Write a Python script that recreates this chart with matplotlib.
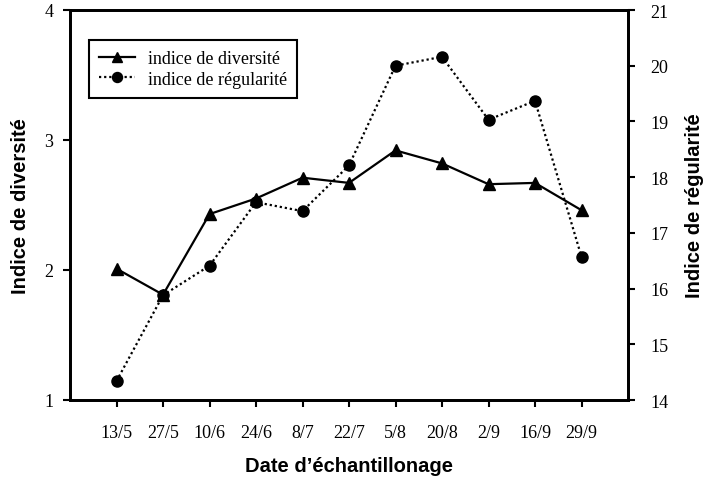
import matplotlib
matplotlib.use("Agg")
import matplotlib.pyplot as plt

dates = ["13/5", "27/5", "10/6", "24/6", "8/7", "22/7", "5/8", "20/8", "2/9", "16/9", "29/9"]
diversite = [2.01, 1.81, 2.43, 2.55, 2.71, 2.67, 2.92, 2.82, 2.66, 2.67, 2.46]
regularite = [14.34, 15.88, 16.41, 17.55, 17.39, 18.21, 20.0, 20.16, 19.03, 19.37, 16.57]

SERIF = ["Liberation Serif", "DejaVu Serif"]
SANS = ["Liberation Sans", "DejaVu Sans"]

fig = plt.figure(figsize=(7.03, 4.85), dpi=100)
ax = fig.add_axes([70 / 703, 1 - 401 / 485, 558 / 703, 390 / 485])
ax2 = ax.twinx()

x = list(range(len(dates)))
l1, = ax.plot(x, diversite, color="black", lw=1.6, marker="^", ms=8,
              label="indice de diversité")
l2, = ax2.plot(x, regularite, color="black", lw=1.6, ls=(0, (1, 1.3)), marker="o", ms=8,
               label="indice de régularité")

ax.set_xlim(-1, 11)
ax.set_ylim(1, 4)
ax.set_yticks([1, 2, 3, 4])
ax2.set_ylim(14, 21)
ax2.set_yticks(range(14, 22))
ax.set_xticks(x)
ax.set_xticklabels(dates)

for a in (ax, ax2):
    for s in a.spines.values():
        s.set_linewidth(2.0)
    a.tick_params(width=1.5, length=5, labelsize=13, direction="out")
    for t in a.get_xticklabels() + a.get_yticklabels():
        t.set_family(SERIF)
ax.tick_params(axis="x", pad=12)
ax.tick_params(axis="y", pad=7)
ax2.tick_params(axis="y", pad=11)

ax.set_xlabel("Date d\u2019échantillonage", family=SANS, fontweight="bold",
              fontsize=14.5, labelpad=11)
ax.set_ylabel("Indice de diversité", family=SANS, fontweight="bold", fontsize=14.5,
              labelpad=10)
ax2.set_ylabel("Indice de régularité", family=SANS, fontweight="bold", fontsize=14.5,
               labelpad=12)

leg = ax.legend(handles=[l1, l2], loc="upper left", bbox_to_anchor=(0.034, 0.923),
                borderaxespad=0,
                prop={"family": SERIF, "size": 13}, fancybox=False, frameon=True,
                edgecolor="black", framealpha=1, handlelength=2.0, borderpad=0.55,
                labelspacing=0.2, handletextpad=0.7, markerscale=0.9)
leg.get_frame().set_linewidth(1.5)

fig.savefig("out.png", dpi=100)
